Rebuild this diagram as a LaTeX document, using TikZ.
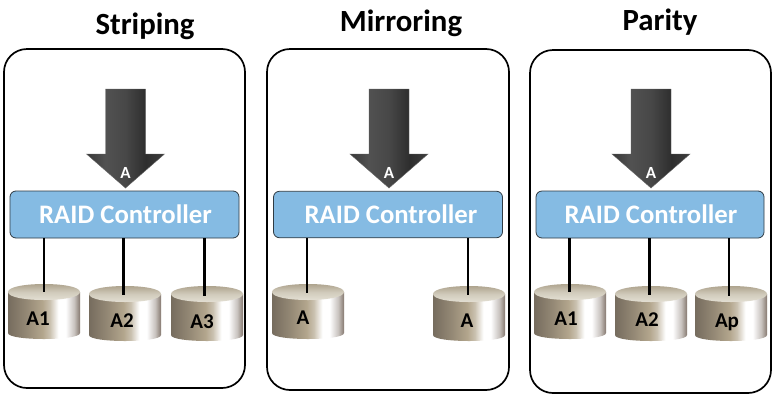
\documentclass[tikz,border=0pt]{standalone}
\usepackage{fontspec}
\setmainfont{Carlito}[BoldFont=Carlito Bold]
\definecolor{ctrlblue}{HTML}{85BBE3}
\definecolor{ctrledge}{HTML}{2F3A42}
\definecolor{dkA}{HTML}{766C5E}
\definecolor{dkB}{HTML}{B3A68D}
\definecolor{dkD}{HTML}{85786F}
\definecolor{dkT}{HTML}{A3977F}
\definecolor{dkL}{HTML}{E9E6DB}
\pgfdeclarehorizontalshading{diskbody}{100bp}{
  color(0bp)=(dkA); color(25bp)=(dkA); color(38bp)=(dkA!50!dkB); color(49bp)=(dkB);
  color(54bp)=(dkB!70!white); color(60bp)=(white); color(65bp)=(white); color(71bp)=(dkD!45!white); color(75bp)=(dkD); color(100bp)=(dkD)}
\pgfdeclareverticalshading{disktop}{100bp}{
  color(0bp)=(dkL); color(25bp)=(dkL); color(50bp)=(dkL!65!dkT); color(75bp)=(dkT); color(100bp)=(dkT)}
\pgfdeclarehorizontalshading{arrowbody}{100bp}{
  color(0bp)=(black!78); color(25bp)=(black!78); color(37bp)=(black!68); color(50bp)=(black!72); color(63bp)=(black!82); color(75bp)=(black!76); color(100bp)=(black!76)}
\tikzset{
  x=1pt,y=-1pt,
  panel/.style={draw=black,line width=1.7pt,rounded corners=23pt,fill=white},
  title/.style={font=\bfseries\fontsize{30.8}{32}\selectfont,text=black,inner sep=0pt},
  ctrl/.style={draw=ctrledge,line width=0.8pt,rounded corners=6pt,fill=ctrlblue,inner sep=0pt,
    text=white,font=\bfseries\fontsize{26.7}{28}\selectfont},
  link/.style={draw=black,line width=2.4pt},
  disklabel/.style={font=\bfseries\fontsize{21}{22}\selectfont,text=black,inner sep=0pt},
  arrowlabel/.style={font=\bfseries\fontsize{17}{18}\selectfont,text=white,inner sep=0pt},
  bigarrow/.style={shading=arrowbody,draw=black!60,line width=0.4pt}
}
% #1 left x, #2 top y, #3 name, #4 label, #5 label x, #6 label y
\newcommand{\drawdisk}[6]{%
  \path[shading=diskbody] (#1,#2+8) -- (#1+72,#2+8) -- (#1+72,#2+49)
    .. controls (#1+72,#2+57) and (#1,#2+57) .. (#1,#2+49) -- cycle;
  \path[shading=disktop] (#1,#2+8) .. controls (#1,#2-2.67) and (#1+72,#2-2.67) .. (#1+72,#2+8)
    .. controls (#1+72,#2+18.67) and (#1,#2+18.67) .. (#1,#2+8) -- cycle;
  \node[disklabel] (#3) at (#5,#6) {#4};
}
% #1 tip x, #2 name
\newcommand{\drawarrow}[2]{%
  \path[bigarrow] (#1-20,89) -- (#1+20,89) -- (#1+20,154) -- (#1+39,154) -- (#1,188) -- (#1-39,154) -- (#1-20,154) -- cycle;
  \node[arrowlabel] (#2) at (#1,173) {A};
}
\begin{document}
\begin{tikzpicture}
\useasboundingbox (0,0) rectangle (778,405);
\fill[white] (0,0) rectangle (778,405);
% panels
\draw[panel] (4,49) rectangle (245,388);
\draw[panel] (267,49) rectangle (509,390);
\draw[panel] (530,50) rectangle (771,393);
% titles
\node[title] (t1) at (145,26.5) {Striping};
\node[title] (t2) at (401,23.5) {Mirroring};
\node[title] (t3) at (660,22.5) {Parity};
% arrows
\drawarrow{125.5}{aa}
\drawarrow{389}{ab}
\drawarrow{651}{ac}
% controllers
\node[ctrl,minimum width=229pt,minimum height=47pt] (c1) at (124.5,214.5) {\hspace*{2pt}RAID Controller};
\node[ctrl,minimum width=229pt,minimum height=46.5pt] (c2) at (388,214.5) {\hspace*{6pt}RAID Controller};
\node[ctrl,minimum width=228pt,minimum height=47pt] (c3) at (650,214.5) {\hspace*{2pt}RAID Controller};
% disks
\drawdisk{8}{284}{d1}{A1}{38}{318.5}
\drawdisk{89}{286}{d2}{A2}{122}{320.5}
\drawdisk{171}{286}{d3}{A3}{202}{322}
\drawdisk{272}{284}{d4}{A}{303}{318}
\drawdisk{433}{286}{d5}{A}{467}{321}
\drawdisk{534}{284}{d6}{A1}{566}{319}
\drawdisk{615}{286}{d7}{A2}{647}{320}
\drawdisk{695}{286}{d8}{Ap}{727}{322}
% disk tops as connector ends
\coordinate (e1) at (44,292);
\coordinate (e2) at (123.5,295);
\coordinate (e3) at (204.5,296);
\coordinate (e4) at (307,293);
\coordinate (e5) at (468,295);
\coordinate (e6) at (569.5,292);
\coordinate (e7) at (649.5,295);
\coordinate (e8) at (729,296);
\draw[link] (c1.south -| e1) -- (e1);
\draw[link] (c1.south -| e2) -- (e2);
\draw[link] (c1.south -| e3) -- (e3);
\draw[link] (c2.south -| e4) -- (e4);
\draw[link] (c2.south -| e5) -- (e5);
\draw[link] (c3.south -| e6) -- (e6);
\draw[link] (c3.south -| e7) -- (e7);
\draw[link] (c3.south -| e8) -- (e8);
\end{tikzpicture}
\end{document}
